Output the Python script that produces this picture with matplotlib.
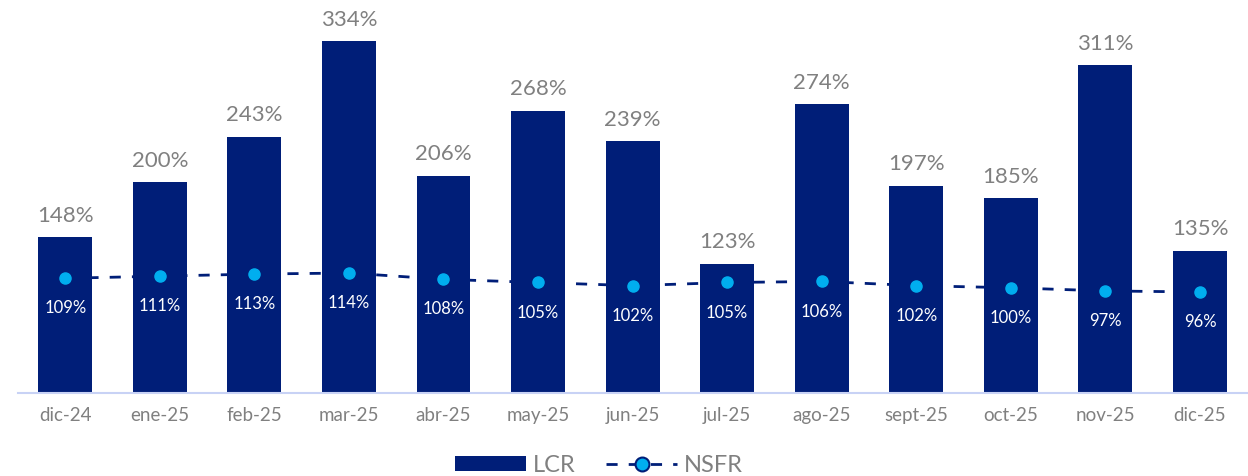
import numpy as np
import matplotlib.pyplot as plt

plt.rcParams['font.family'] = ['Lato', 'DejaVu Sans']

months = ['dic-24', 'ene-25', 'feb-25', 'mar-25', 'abr-25', 'may-25', 'jun-25',
          'jul-25', 'ago-25', 'sept-25', 'oct-25', 'nov-25', 'dic-25']
lcr = [148, 200, 243, 334, 206, 268, 239, 123, 274, 197, 185, 311, 135]
nsfr = [109, 111, 113, 114, 108, 105, 102, 105, 106, 102, 100, 97, 96]

bar_col = '#001E78'
dot_col = '#00AEEF'
txt_col = '#808080'

fig = plt.figure(figsize=(12.48, 4.76), dpi=100)
ax = fig.add_axes([0.0144, 0.174, 0.985, 0.826])

x = np.arange(len(months))
bars = ax.bar(x, lcr, width=0.57, color=bar_col, label='LCR', zorder=2)
line, = ax.plot(x, nsfr, color=bar_col, linestyle=(0, (4, 4)), linewidth=2,
                marker='o', markersize=8, markerfacecolor=dot_col,
                markeredgecolor=dot_col, label='NSFR', zorder=3)

for xi, v in zip(x, lcr):
    ax.text(xi, v + 11, f'{v}%', ha='center', va='bottom', fontsize=16,
            color=txt_col)
for xi, v in zip(x, nsfr):
    ax.text(xi, v - 21, f'{v}%', ha='center', va='top', fontsize=12,
            color='white', zorder=5)

ax.set_xlim(-0.5, len(months) - 0.5)
ax.set_ylim(0, 373)
ax.set_xticks(x)
ax.set_xticklabels(months, fontsize=13.5, color=txt_col)
ax.tick_params(axis='x', length=0, pad=10)
ax.set_yticks([])
for s in ['top', 'right', 'left']:
    ax.spines[s].set_visible(False)
ax.spines['bottom'].set_color('#C8D2F5')
ax.spines['bottom'].set_linewidth(1.5)

leg = fig.legend([bars, line], ['LCR', 'NSFR'], loc='lower center',
                 bbox_to_anchor=(0.48, -0.045), ncol=2, frameon=False, fontsize=17,
                 handlelength=3.0, handleheight=0.6, columnspacing=1.3,
                 handletextpad=0.3)
for t in leg.get_texts():
    t.set_color(txt_col)
lh = leg.legend_handles[1]
lh.set_markeredgecolor(bar_col)
lh.set_markeredgewidth(1.5)
lh.set_markersize(10)

fig.savefig('out.png', dpi=100)
